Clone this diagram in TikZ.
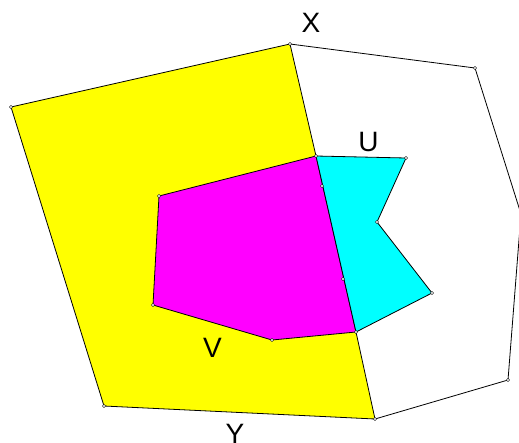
\documentclass[tikz,border=0pt]{standalone}
\usepackage{fontspec}
\setmainfont{Liberation Sans}
\usepackage{tikz}
\tikzset{
  poly/.style={draw=black,line width=0.8pt,line join=round},
  yel/.style={poly,fill={rgb,255:red,255;green,255;blue,0}},
  mag/.style={poly,fill={rgb,255:red,255;green,0;blue,255}},
  cya/.style={poly,fill={rgb,255:red,0;green,255;blue,255}},
  vdot/.style={circle,draw=black,fill=white,line width=0.4pt,inner sep=0pt,
    minimum size=3.4pt},
  lbl/.style={font=\fontsize{28}{30}\selectfont,inner sep=0pt},
}

\begin{document}
\begin{tikzpicture}[x=1pt,y=-1pt]
  \useasboundingbox (0,0) rectangle (519,442);
  % corners
  \coordinate (a) at (11,107);
  \coordinate (b) at (290,44);
  \coordinate (c) at (316,156);
  \coordinate (d) at (356,332);
  \coordinate (e) at (375,419);
  \coordinate (f) at (104,406);
  \coordinate (m1) at (159,196);
  \coordinate (m2) at (153,305);
  \coordinate (m3) at (272,340);
  \coordinate (u1) at (406,158);
  \coordinate (u2) at (377,222);
  \coordinate (u3) at (432,293);
  \coordinate (w1) at (475,68);
  \coordinate (w2) at (521,214);
  \coordinate (w3) at (508,380);
  \coordinate (p1) at (322,186);
  \coordinate (p2) at (343,279);
  % regions
  \draw[yel] (a) -- (b) -- (c) -- (d) -- (e) -- (f) -- cycle;
  \draw[mag] (c) -- (m1) -- (m2) -- (m3) -- (d) -- cycle;
  \draw[cya] (c) -- (u1) -- (u2) -- (u3) -- (d) -- cycle;
  \draw[poly] (b) -- (w1) -- (w2) -- (w3) -- (e);
  % vertices
  \foreach \p in {a,b,c,d,e,f,m1,m2,m3,u1,u2,u3,w1,w3,p1,p2}
    \node[vdot] (dot-\p) at (\p) {};
  % labels
  \node[lbl] (lx) at (311,22.5) {X};
  \node[lbl] (lu) at (368.5,142.5) {U};
  \node[lbl] (lv) at (212.5,347.5) {V};
  \node[lbl] (ly) at (235,433.5) {Y};
\end{tikzpicture}
\end{document}
